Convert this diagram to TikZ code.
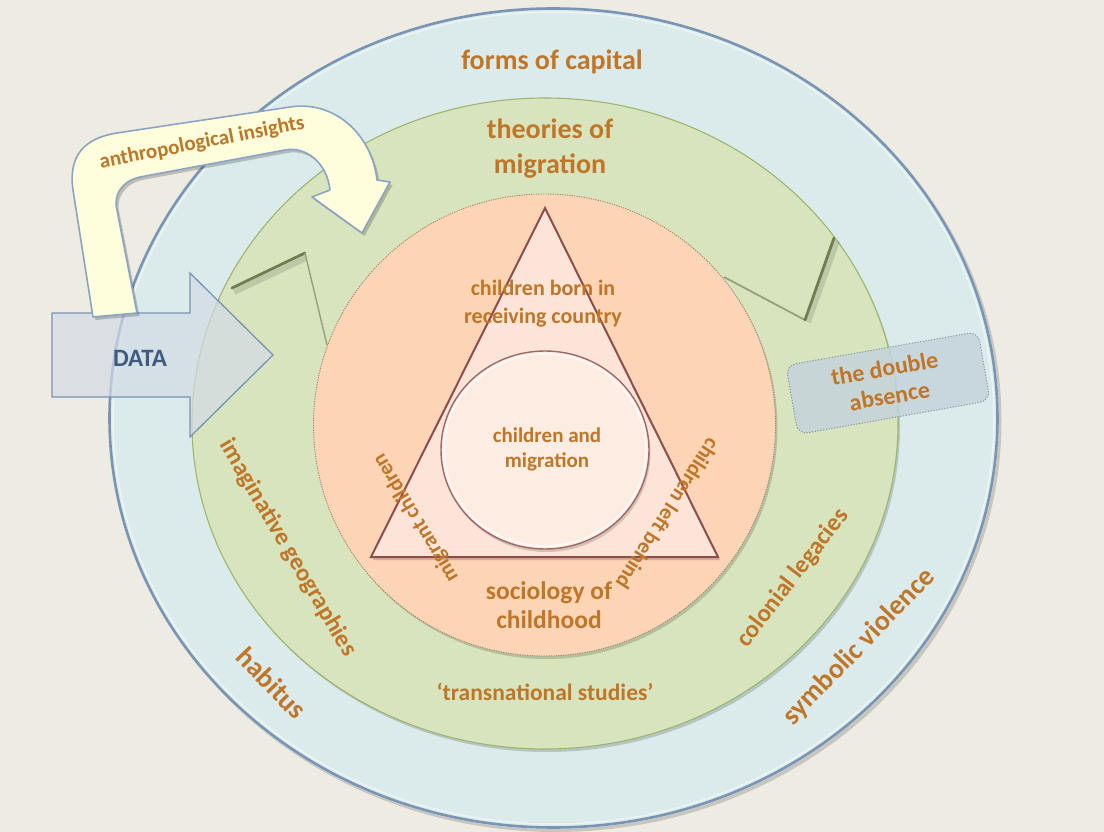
\documentclass[tikz,border=0pt]{standalone}
\usepackage{fontspec}
\setmainfont{Carlito}
\usetikzlibrary{calc}

\definecolor{bg}{HTML}{EEEBE2}
\definecolor{ringblue}{HTML}{DBEAEA}
\definecolor{ringblueedge}{HTML}{7A95B4}
\definecolor{ringgreen}{HTML}{D7E4BD}
\definecolor{ringgreenedge}{HTML}{9CB66F}
\definecolor{coreorange}{HTML}{FBD5B5}
\definecolor{coreedge}{HTML}{A58466}
\definecolor{trifill}{HTML}{FCE5D8}
\definecolor{triedge}{HTML}{8F4C4C}
\definecolor{hubfill}{HTML}{FDECE2}
\definecolor{labelorange}{HTML}{C07628}
\definecolor{datablue}{HTML}{3F5B80}
\definecolor{datafill}{HTML}{D3DBE5}
\definecolor{dataedge}{HTML}{7893B3}
\definecolor{insightfill}{HTML}{FEFEDC}
\definecolor{insightedge}{HTML}{8BA4C2}
\definecolor{absfill}{HTML}{C5D3DC}
\definecolor{absedge}{HTML}{8796A3}
\definecolor{notchdark}{HTML}{6F7E52}
\definecolor{notchlight}{HTML}{93A27A}

\tikzset{
  lbl/.style={text=labelorange, align=center, inner sep=0pt},
  sz/.style 2 args={font=\fontsize{#1}{#2}\selectfont\bfseries},
  softshadow/.style={fill=black, opacity=0.16},
  absbox/.style={draw=absedge, fill=absfill, fill opacity=0.85, line width=1,
    dash pattern=on 1.2pt off 1.6pt, rounded corners=10pt,
    minimum width=195pt, minimum height=70pt}
}

% outline of the curved "anthropological insights" arrow
\newcommand{\insightoutline}{%
  (93,317) -- (73,190) .. controls (68,155) and (85,138) .. (117,133)
  -- (290,107) .. controls (335,100) and (372,135) .. (377,180)
  -- (390,182) -- (362,233) -- (312,197) -- (330,190)
  .. controls (327,162) and (305,146) .. (285,150)
  -- (140,177) .. controls (122,181) and (113,195) .. (117,210)
  -- (137,313) -- cycle}

\begin{document}
\begin{tikzpicture}[x=1pt,y=-1pt]
\fill[bg] (0,0) rectangle (1104,832);
\useasboundingbox (0,0) rectangle (1104,832);

% outer ring
\fill[softshadow] (556,421) ellipse [x radius=445.5, y radius=411];
\fill[ringblue] (553.5,418) ellipse [x radius=445.5, y radius=411];
\draw[ringblueedge, line width=2.6] (553.5,418) ellipse [x radius=444, y radius=409.5];
\draw[white, opacity=0.5, line width=1.5] (553.5,418) ellipse [x radius=440.5, y radius=406];

% middle ring
\fill[softshadow] (547,426.5) ellipse [x radius=353, y radius=325.5];
\fill[ringgreen] (545,423.5) ellipse [x radius=353, y radius=325.5];
\draw[ringgreenedge, line width=1.1] (545,423.5) ellipse [x radius=353, y radius=325.5];

% ends of the circular block arrow running round the middle ring
\draw[black, opacity=0.12, line width=6] (234,292) -- (306,258);
\draw[notchdark, line width=2.8, line cap=round] (232,288) -- (305,253);
\draw[notchlight, line width=1.4] (305,253) -- (327,345);
\draw[notchlight, line width=1.8] (724,277) -- (805,320);
\draw[black, opacity=0.12, line width=6] (808,322) -- (837,241);
\draw[notchdark, line width=2.8, line cap=round] (805,320) -- (834,238);

% inner disc
\fill[softshadow] (546.5,428) circle [radius=231];
\fill[coreorange] (544.5,425) circle [radius=231];
\draw[coreedge, line width=0.9, dash pattern=on 1.2pt off 1.2pt] (544.5,425) circle [radius=231];

% triangle
\fill[softshadow] (547,211) -- (373,560) -- (720,560) -- cycle;
\filldraw[fill=trifill, draw=triedge, line width=2, line join=miter]
  (545,208) -- (371,557) -- (718,557) -- cycle;

% central circle
\fill[softshadow] (546.5,453) ellipse [x radius=104, y radius=99];
\filldraw[fill=hubfill, draw=triedge!85!white, line width=1.4]
  (545,450) ellipse [x radius=104, y radius=99];
\draw[white, opacity=0.6, line width=2] (545,450) ellipse [x radius=101, y radius=96];

% DATA block arrow
\filldraw[fill=datafill, fill opacity=0.7, draw=dataedge, line width=1.3, line join=miter]
  (52,313) -- (190,313) -- (190,273) -- (273,355) -- (190,437) -- (190,397) -- (52,397) -- cycle;

% curved arrow
\fill[black, opacity=0.2, shift={(2.5,3)}] \insightoutline;
\filldraw[fill=insightfill, draw=insightedge, line width=1.6, line join=round] \insightoutline;

% dotted box
\node[absbox, rotate=10] (absbox) at (888,383) {};

% labels
\node[lbl, sz={28}{34}] (capital) at (552,62) {forms of capital};
\node[lbl, sz={28}{35}] (theories) at (550,148.5) {theories of\\migration};
\node[lbl, sz={22}{28}] (born) at (543,304) {children born in\\receiving country};
\node[lbl, sz={21}{25}] (hubtext) at (547,449.5) {children and\\migration};
\node[lbl, sz={25.5}{29}] (sociology) at (549,605.5) {sociology of\\childhood};
\node[lbl, sz={23.5}{28}] (transnational) at (545,692) {‘transnational studies’};
\node[lbl, sz={24.5}{28}, rotate=-59.5] (imaginative) at (288,548) {imaginative geographies};
\node[lbl, sz={28}{32}, rotate=-46] (habitus) at (272,683) {habitus};
\node[lbl, sz={24.8}{28}, rotate=52.5] (colonial) at (793,578) {colonial legacies};
\node[lbl, sz={28}{32}, rotate=46] (symbolic) at (859,647) {symbolic violence};
\node[lbl, sz={21.5}{25}, rotate=121] (migrant) at (416,518) {migrant children};
\node[lbl, sz={21.5}{25}, rotate=-122.5] (leftbehind) at (668,514) {children left behind};
\node[lbl, sz={21}{25}, rotate=11] (insights) at (202,143) {anthropological insights};
\node[lbl, sz={24}{28}, rotate=10] (absence) at (887,382) {the double\\absence};
\node[text=datablue, sz={25}{28}, inner sep=0pt] (data) at (140,358) {DATA};
\end{tikzpicture}
\end{document}
